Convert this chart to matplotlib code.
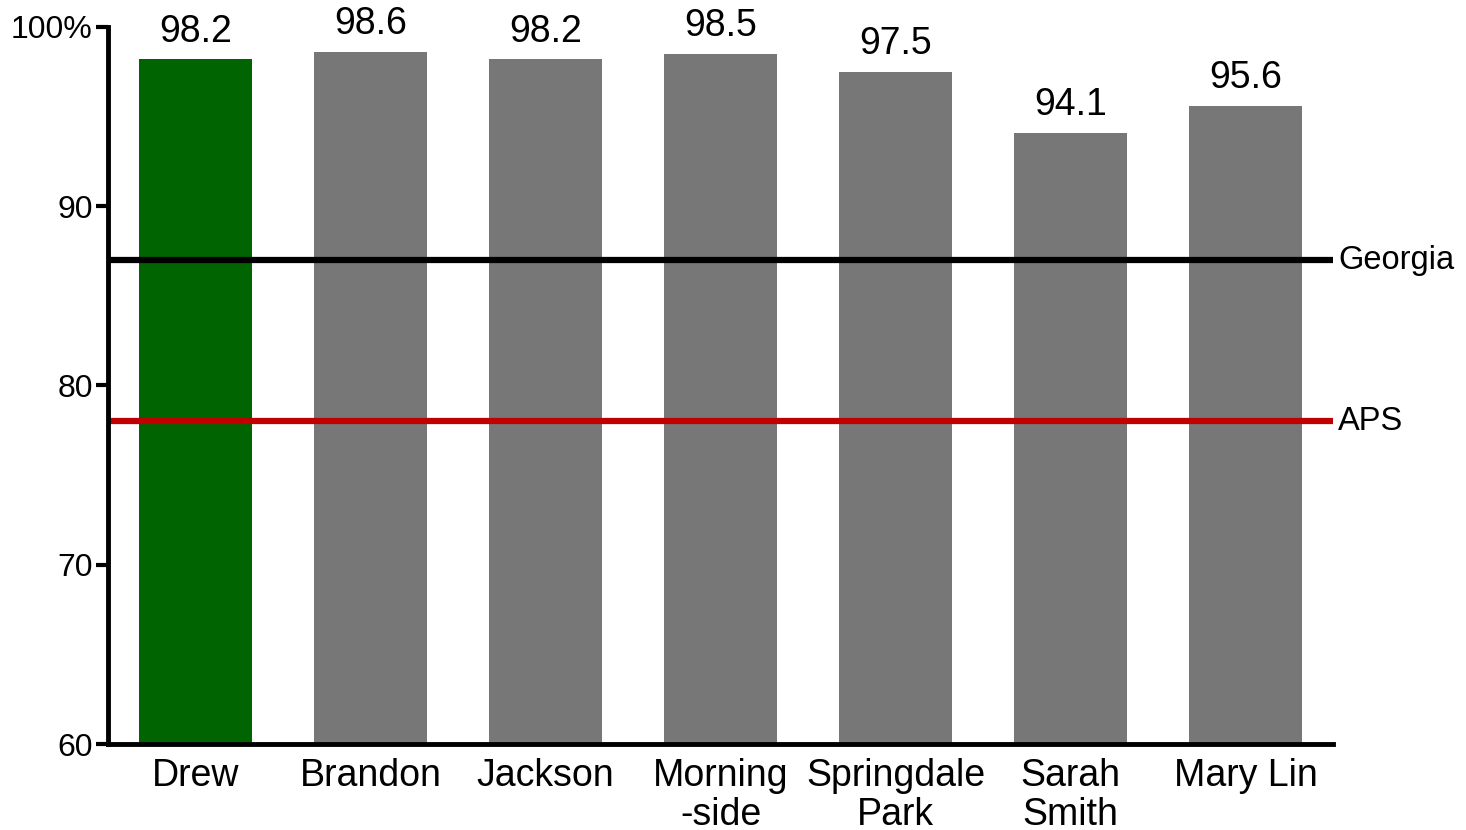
import matplotlib
matplotlib.use("Agg")
import matplotlib.pyplot as plt
from matplotlib.transforms import blended_transform_factory

plt.rcParams['font.family'] = ['Liberation Sans', 'DejaVu Sans']

escuelas = ["Drew", "Brandon", "Jackson", "Morning\n-side", "Springdale\nPark", "Sarah\nSmith", "Mary Lin"]
valores = [98.2, 98.6, 98.2, 98.5, 97.5, 94.1, 95.6]
colores = ["#006400", "#777777", "#777777", "#777777", "#777777", "#777777", "#777777"]
referencias = {"Georgia": 87.0, "APS": 78.0}
colores_ref = {"Georgia": "#000000", "APS": "#C00000"}

fig = plt.figure(figsize=(14.66, 8.3), dpi=100)
cuad = fig.add_axes([0.0737, 0.1036, 0.8356, 0.8639])

posiciones = list(range(len(escuelas)))
barras = cuad.bar(posiciones, valores, width=0.646, color=colores, zorder=2)

for x, v in zip(posiciones, valores):
    cuad.annotate(f"{v}", (x, v), xytext=(0, 7), textcoords="offset points",
                  ha="center", va="bottom", fontsize=27)

trans = blended_transform_factory(cuad.transAxes, cuad.transData)
for nombre, valor in referencias.items():
    cuad.axhline(valor, color=colores_ref[nombre], linewidth=4.5, zorder=3)
    cuad.text(1.004, valor, nombre, transform=trans, ha="left", va="center",
              fontsize=23.5)

cuad.set_xlim(-0.5, 6.5)
cuad.set_ylim(60, 100)
cuad.set_yticks([60, 70, 80, 90, 100])
cuad.set_yticklabels(["60", "70", "80", "90", "100%"], fontsize=23)
cuad.set_xticks(posiciones)
cuad.set_xticklabels(escuelas, fontsize=27, linespacing=1.1)
cuad.tick_params(axis="x", length=0, pad=10)
cuad.tick_params(axis="y", length=9, width=3, pad=2)

for lado in ["top", "right"]:
    cuad.spines[lado].set_visible(False)
for lado in ["left", "bottom"]:
    cuad.spines[lado].set_linewidth(3.5)
    cuad.spines[lado].set_zorder(4)

fig.savefig("out.png", dpi=100)
